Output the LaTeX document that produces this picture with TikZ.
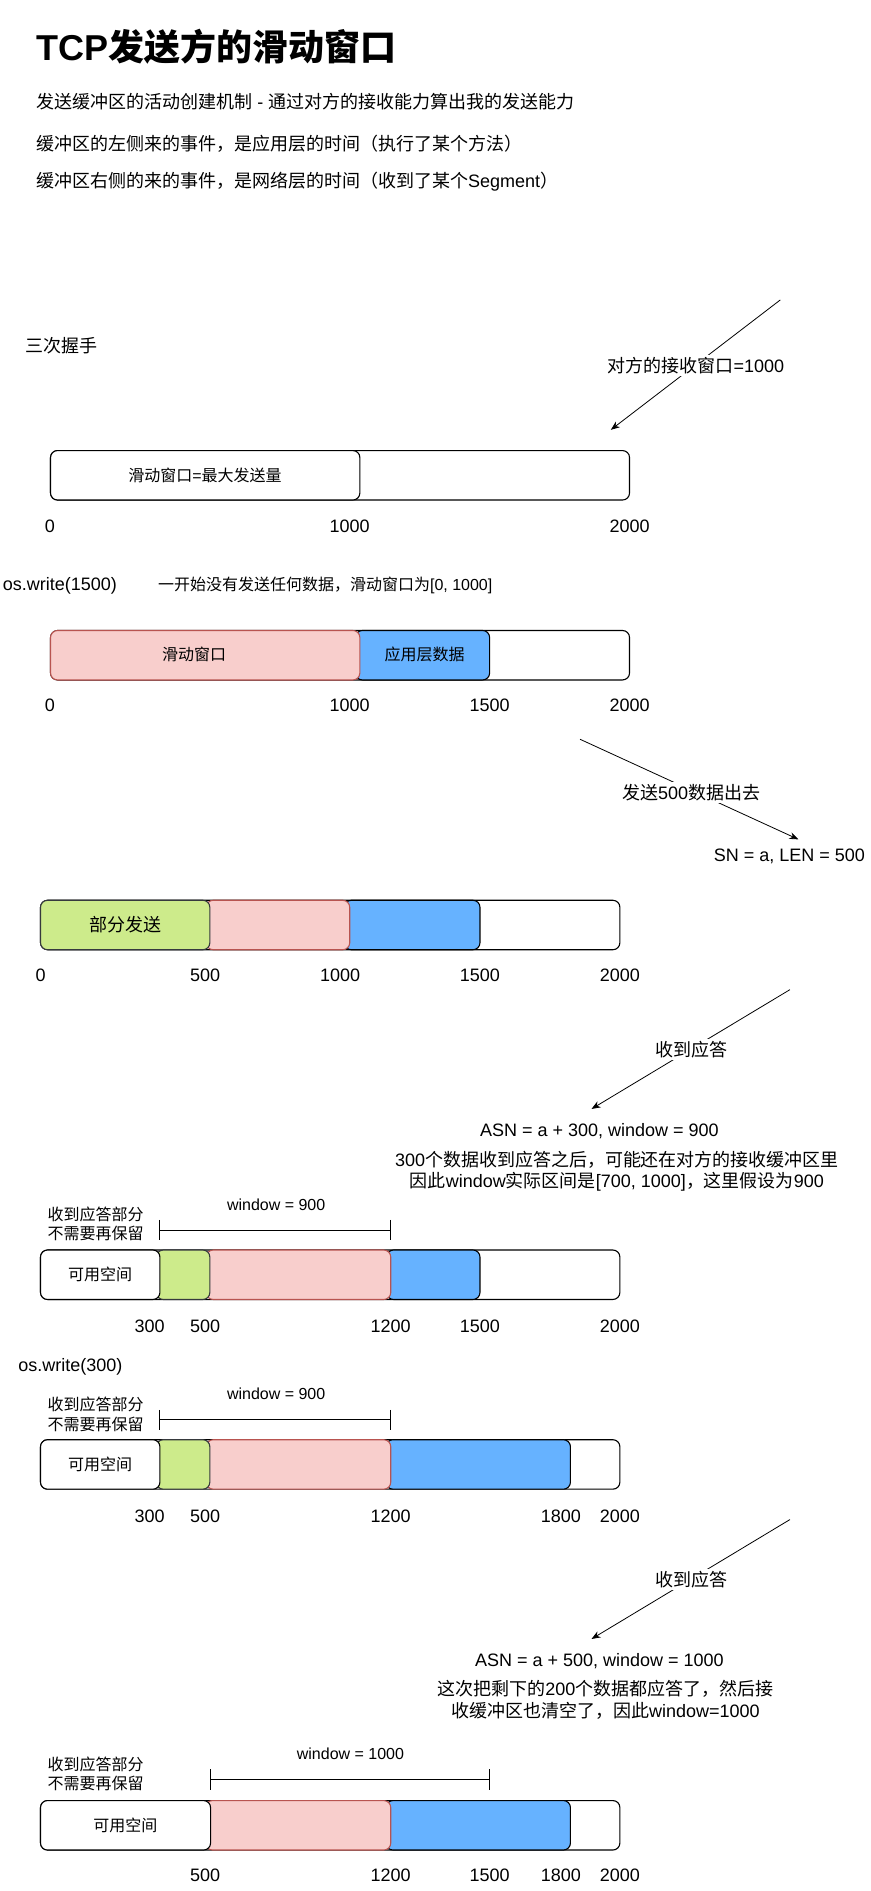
\documentclass[tikz,border=0pt]{standalone}
\usepackage{fontspec}
\setmainfont{Liberation Sans}
\newfontfamily\lat{Liberation Sans}
\newfontfamily\cjk{Noto Sans CJK SC}
\usetikzlibrary{arrows.meta}
\definecolor{pinkfill}{HTML}{F8CECC}
\definecolor{pinkline}{HTML}{B85450}
\definecolor{bluefill}{HTML}{66B2FF}
\definecolor{greenfill}{HTML}{CDEB8B}
\definecolor{greenline}{HTML}{36393D}
\tikzset{
  txt/.style={inner sep=0pt, font=\cjk\fontsize{18}{21.7}\selectfont},
  small/.style={inner sep=0pt, font=\cjk\fontsize{16}{19.3}\selectfont},
  num/.style={inner sep=0pt, font=\lat\fontsize{18}{21.7}\selectfont},
  smallnum/.style={inner sep=0pt, font=\lat\fontsize{16}{19.3}\selectfont},
  seg/.style={rounded corners=7pt, line width=1.1pt},
  outerbox/.style={seg, draw=black, fill=white},
  whitebox/.style={seg, draw=black, fill=white},
  pinkbox/.style={seg, draw=pinkline, fill=pinkfill},
  bluebox/.style={seg, draw=black, fill=bluefill},
  greenbox/.style={seg, draw=greenline, fill=greenfill},
  arr/.style={-{Stealth[length=9pt,width=7pt]}, line width=0.8pt},
  lbl/.style={txt, fill=white, inner sep=2pt},
  brk/.style={line width=1.1pt}
}
\begin{document}
\begin{tikzpicture}[x=1.2064pt, y=-1.2064pt]
\useasboundingbox (0,0) rectangle (722,1568);

% header
\node[anchor=west, inner sep=0pt, font=\fontsize{36}{40}\selectfont] (title) at (30,38.7) {{\lat\bfseries TCP}{\cjk\bfseries 发送方的滑动窗口}};
\node[txt, anchor=west] (h1) at (30,84.3) {发送缓冲区的活动创建机制{\lat\ -\ }通过对方的接收能力算出我的发送能力};
\node[txt, anchor=west] (h2) at (30,118.8) {缓冲区的左侧来的事件，是应用层的时间（执行了某个方法）};
\node[txt, anchor=west] (h3) at (30,150.6) {缓冲区右侧的来的事件，是网络层的时间（收到了某个{\lat Segment}）};

% handshake
\node[txt, anchor=west] (hs) at (20.7,286.5) {三次握手};
\coordinate (a1s) at (647,248.7);
\coordinate (a1e) at (506.5,356.4);
\draw[arr] (a1s) -- (a1e);
\node[lbl] (a1l) at (577,303) {对方的接收窗口{\lat =1000}};

% bar 1
\draw[outerbox] (41.9,373.6) rectangle (522,414.6);
\draw[whitebox] (41.9,373.6) rectangle (298.4,414.6);
\node[small] (b1t) at (170,394) {滑动窗口{\lat =}最大发送量};
\node[num] (b1n0) at (41.4,436.6) {0};
\node[num] (b1n1) at (290,436.6) {1000};
\node[num] (b1n2) at (522,436.6) {2000};

% os.write(1500)
\node[num, anchor=west] (w1) at (2.3,486) {os.write(1500)};
\node[small, anchor=west] (w1c) at (131,485) {一开始没有发送任何数据，滑动窗口为{\lat [0, 1000]}};

% bar 2
\draw[outerbox] (41.9,522.8) rectangle (522,563.8);
\draw[bluebox] (294.7,522.8) rectangle (406,563.8);
\draw[pinkbox] (41.9,522.8) rectangle (298.4,563.8);
\node[small] (b2t1) at (161,543) {滑动窗口};
\node[small] (b2t2) at (352,543) {应用层数据};
\node[num] (b2n0) at (41.4,585) {0};
\node[num] (b2n1) at (290,585) {1000};
\node[num] (b2n2) at (406,585) {1500};
\node[num] (b2n3) at (522,585) {2000};

% send arrow
\coordinate (a2s) at (481,613);
\coordinate (a2e) at (662,696);
\draw[arr] (a2s) -- (a2e);
\node[lbl] (a2l) at (573,657) {发送{\lat 500}数据出去};
\node[num] (sn) at (654.5,710) {SN = a, LEN = 500};

% bar 3
\draw[outerbox] (33.6,746.5) rectangle (514,787.5);
\draw[bluebox] (285.5,746.5) rectangle (398,787.5);
\draw[pinkbox] (171,746.5) rectangle (290,787.5);
\draw[greenbox] (33.6,746.5) rectangle (174,787.5);
\node[txt] (b3t) at (104,767) {部分发送};
\node[num] (b3n0) at (33.6,809) {0};
\node[num] (b3n1) at (170,809) {500};
\node[num] (b3n2) at (282,809) {1000};
\node[num] (b3n3) at (398,809) {1500};
\node[num] (b3n4) at (514,809) {2000};

% ack 1
\coordinate (a3s) at (655,820.6);
\coordinate (a3e) at (490.5,919.5);
\draw[arr] (a3s) -- (a3e);
\node[lbl] (a3l) at (573,870) {收到应答};
\node[num] (asn1) at (497,937.5) {ASN = a + 300, window = 900};
\node[txt] (e1a) at (511.6,961.6) {{\lat 300}个数据收到应答之后，可能还在对方的接收缓冲区里};
\node[txt] (e1b) at (511.6,979.6) {因此{\lat window}实际区间是{\lat [700, 1000]}，这里假设为{\lat 900}};

% bar 4
\node[small, anchor=west] (k4a) at (39.4,1007) {收到应答部分};
\node[small, anchor=west] (k4b) at (39.4,1023) {不需要再保留};
\node[smallnum] (win4) at (229,999) {window = 900};
\draw[brk] (132.6,1011.5) -- (132.6,1028.5) (132.6,1020) -- (324,1020) (324,1011.5) -- (324,1028.5);
\draw[outerbox] (33.6,1036.5) rectangle (514,1077.5);
\draw[bluebox] (320.5,1036.5) rectangle (398,1077.5);
\draw[pinkbox] (171,1036.5) rectangle (324,1077.5);
\draw[greenbox] (129.6,1036.5) rectangle (174,1077.5);
\draw[whitebox] (33.6,1036.5) rectangle (132.6,1077.5);
\node[small] (b4t) at (83,1057) {可用空间};
\node[num] (b4n0) at (124,1100) {300};
\node[num] (b4n1) at (170,1100) {500};
\node[num] (b4n2) at (324,1100) {1200};
\node[num] (b4n3) at (398,1100) {1500};
\node[num] (b4n4) at (514,1100) {2000};

% os.write(300)
\node[num, anchor=west] (w2) at (15,1133) {os.write(300)};

% bar 5
\node[small, anchor=west] (k5a) at (39.4,1164.6) {收到应答部分};
\node[small, anchor=west] (k5b) at (39.4,1181) {不需要再保留};
\node[smallnum] (win5) at (229,1156) {window = 900};
\draw[brk] (132.6,1169) -- (132.6,1185.5) (132.6,1177) -- (324,1177) (324,1169) -- (324,1185.5);
\draw[outerbox] (33.6,1193.8) rectangle (514,1234.8);
\draw[bluebox] (320,1193.8) rectangle (473,1234.8);
\draw[pinkbox] (171,1193.8) rectangle (324,1234.8);
\draw[greenbox] (129.6,1193.8) rectangle (174,1234.8);
\draw[whitebox] (33.6,1193.8) rectangle (132.6,1234.8);
\node[small] (b5t) at (83,1214) {可用空间};
\node[num] (b5n0) at (124,1257) {300};
\node[num] (b5n1) at (170,1257) {500};
\node[num] (b5n2) at (324,1257) {1200};
\node[num] (b5n3) at (465,1257) {1800};
\node[num] (b5n4) at (514,1257) {2000};

% ack 2
\coordinate (a4s) at (655,1260);
\coordinate (a4e) at (490.5,1359);
\draw[arr] (a4s) -- (a4e);
\node[lbl] (a4l) at (573,1309.7) {收到应答};
\node[num] (asn2) at (497,1377) {ASN = a + 500, window = 1000};
\node[txt] (e2a) at (502,1400.5) {这次把剩下的{\lat 200}个数据都应答了，然后接};
\node[txt] (e2b) at (502,1419) {收缓冲区也清空了，因此{\lat window=1000}};

% bar 6
\node[small, anchor=west] (k6a) at (39.4,1463) {收到应答部分};
\node[small, anchor=west] (k6b) at (39.4,1478.5) {不需要再保留};
\node[smallnum] (win6) at (290.6,1454) {window = 1000};
\draw[brk] (174.5,1467) -- (174.5,1484) (174.5,1475.5) -- (406,1475.5) (406,1467) -- (406,1484);
\draw[outerbox] (33.6,1493) rectangle (514,1534);
\draw[bluebox] (320,1493) rectangle (473,1534);
\draw[pinkbox] (170.4,1493) rectangle (324,1534);
\draw[whitebox] (33.6,1493) rectangle (174.6,1534);
\node[small] (b6t) at (104,1513.5) {可用空间};
\node[num] (b6n0) at (170,1555) {500};
\node[num] (b6n1) at (324,1555) {1200};
\node[num] (b6n2) at (406,1555) {1500};
\node[num] (b6n3) at (465,1555) {1800};
\node[num] (b6n4) at (514,1555) {2000};
\end{tikzpicture}
\end{document}
